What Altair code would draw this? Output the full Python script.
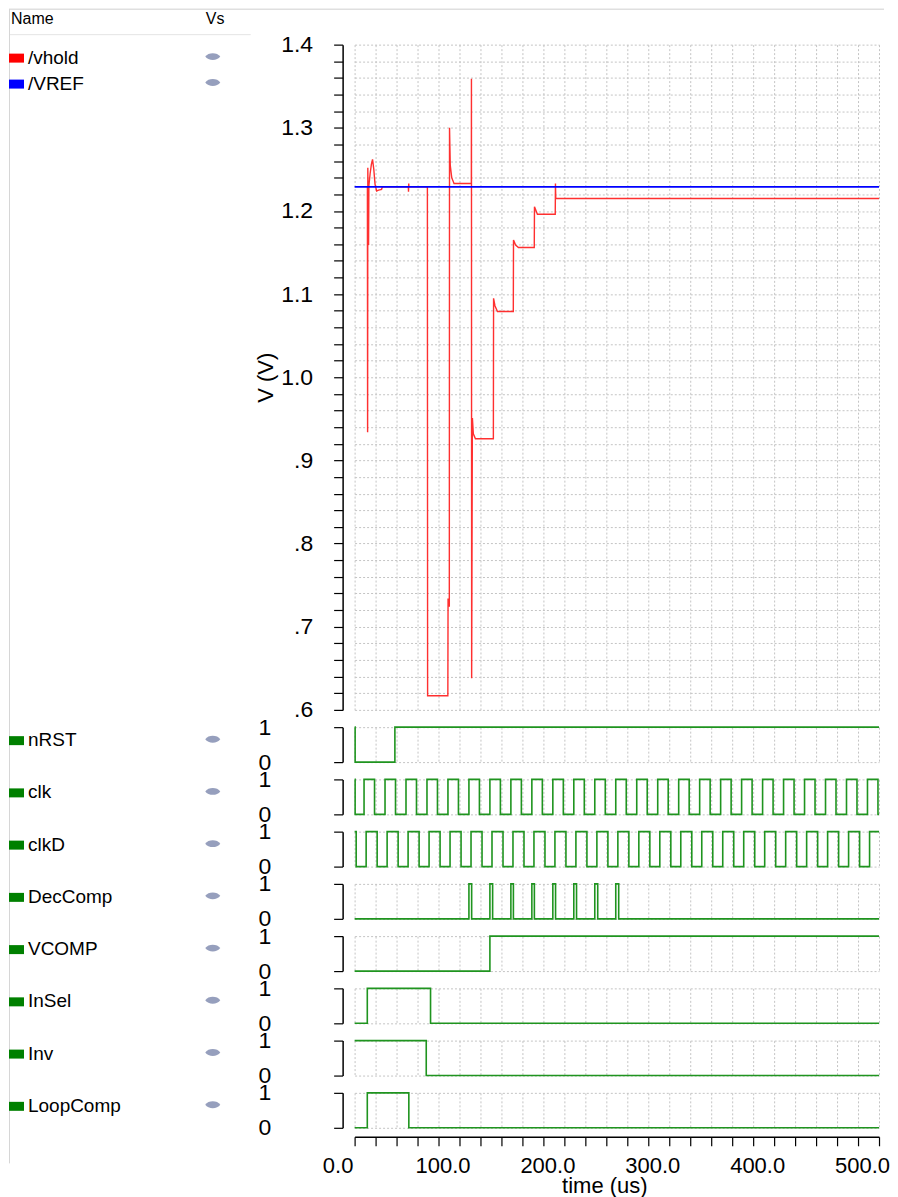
import altair as alt
import pandas as pd

FONT = "Liberation Sans"

# ---------------- data ----------------
vhold_t = [12.2, 12.4, 12.6, 13.3, 13.6, 14.8, 16.0, 17.1, 18.3, 19.5, 21.0, 22.9, 25.7, 26.5,
           51.2, 51.4, 51.6, 51.8, 69.4, 69.6, 88.9, 89.1, 90.3, 90.5, 91.2, 92.6, 94.8,
           111.3, 111.4, 111.6, 112.3, 113.2, 115.2, 132.3, 132.5, 133.8, 136.2,
           151.3, 151.5, 153.5, 156.2, 171.3, 171.5, 174.3, 191.3, 191.5, 191.8, 500.0]
vhold_v = [1.229, 0.934, 1.252, 1.159, 1.230, 1.245, 1.256, 1.262, 1.250, 1.232, 1.224, 1.225, 1.226, 1.229,
           1.229, 1.223, 1.233, 1.229, 1.229, 0.617, 0.617, 0.734, 0.724, 1.300, 1.255, 1.240, 1.233,
           1.233, 1.359, 0.638, 0.951, 0.932, 0.926, 0.926, 1.095, 1.086, 1.079,
           1.079, 1.165, 1.159, 1.156, 1.156, 1.205, 1.196, 1.196, 1.233, 1.215, 1.215]
vref_t = [0.0, 500.0]
vref_v = [1.229, 1.229]

nrst_t = [0, 0.5, 38.4, 500]
nrst_v = [1, 0, 1, 1]

clk_init = 1
clk_rise = [9, 29, 49, 69, 89, 109, 129, 149, 169, 189, 209, 229, 249, 269, 289, 309, 329, 349,
            369, 389, 409, 429, 449, 469, 489]
clk_fall = [0.5, 19, 39, 59, 79, 99, 119, 139, 159, 179, 199, 219, 239, 259, 279, 299, 319, 339,
            359, 379, 399, 419, 439, 459, 479, 499]

clkd_init = 1
clkd_rise = [11, 31, 51, 71, 91, 111, 131, 151, 171, 191, 211, 231, 251, 271, 291, 311, 331, 351,
             371, 391, 411, 431, 451, 471, 491]
clkd_fall = [1.5, 21.5, 41.5, 61.5, 81.5, 101.5, 121.5, 141.5, 161.5, 181.5, 201.5, 221.5, 241.5,
             261.5, 281.5, 301.5, 321.5, 341.5, 361.5, 381.5, 401.5, 421.5, 441.5, 461.5, 481.5]

dec_init = 0
dec_rise = [109, 129, 149, 169, 189, 209, 229, 249]
dec_fall = [111.6, 131.6, 151.4, 171.4, 191.6, 211.6, 231.8, 251.8]

vcomp_t = [0, 129, 500]
vcomp_v = [0, 1, 1]
insel_t = [0, 12.1, 72.4, 500]
insel_v = [0, 1, 0, 0]
inv_t = [0, 68.3, 500]
inv_v = [1, 0, 0]
loop_t = [0, 12.1, 51.7, 500]
loop_v = [0, 1, 0, 0]

signal_names = ["nRST", "clk", "clkD", "DecComp", "VCOMP", "InSel", "Inv", "LoopComp"]
trace_names = ["/vhold", "/VREF"]


def from_edges(init, rises, falls, t_end=500):
    ev = sorted([(t, 1) for t in rises] + [(t, 0) for t in falls])
    ts, vs = [0], [init]
    for t, v in ev:
        ts.append(t)
        vs.append(v)
    ts.append(t_end)
    vs.append(vs[-1])
    return ts, vs


clk_t, clk_v = from_edges(clk_init, clk_rise, clk_fall)
clkd_t, clkd_v = from_edges(clkd_init, clkd_rise, clkd_fall)
dec_t, dec_v = from_edges(dec_init, dec_rise, dec_fall)

signals = [
    (nrst_t, nrst_v), (clk_t, clk_v), (clkd_t, clkd_v), (dec_t, dec_v),
    (vcomp_t, vcomp_v), (insel_t, insel_v), (inv_t, inv_v), (loop_t, loop_v),
]

# ---------------- styles ----------------
W = 525
MAIN_H = 666
ROW_H = 35
GAP = 17.3
RED = "#ff1a1a"
BLUE = "#0000ff"
GREEN = "#1f941f"
EYE = "M-1,0 C-0.6,-0.62 0.6,-0.62 1,0 C0.6,0.62 -0.6,0.62 -1,0 Z"

grid_kw = dict(gridColor="#c4c4c4", gridDash=[2, 2], gridWidth=1)
xscale = alt.Scale(domain=[0, 500], nice=False, zero=False)
xticks = list(range(0, 501, 20))

x_grid_axis = alt.Axis(values=xticks, labels=False, ticks=False, domain=False,
                       title=None, grid=True, **grid_kw)

yticks_main = [round(0.6 + 0.02 * i, 2) for i in range(41)]
main_label_expr = ("abs(datum.value*10 - round(datum.value*10)) < 0.001 ? "
                   "(datum.value >= 0.999 ? format(datum.value, '.1f') : "
                   "replace(format(datum.value, '.1f'), '0.', '.')) : ''")

main_yaxis = alt.Axis(values=yticks_main, labelExpr=main_label_expr, tickSize=9,
                      tickColor="black", tickWidth=1.2, domainColor="black", domainWidth=1.5,
                      offset=12, labelPadding=21, labelFontSize=23, labelColor="black",
                      labelFont=FONT, labelOverlap=False, labelFlush=False,
                      title="V (V)", titleFont=FONT, titleFontSize=22, titleFontWeight="normal",
                      titleColor="black", titleX=-77, titleY=333, titleBaseline="middle",
                      titleAlign="center", grid=True, **grid_kw)

dig_yaxis = alt.Axis(values=[0, 1], format="d", tickSize=9, tickColor="black", tickWidth=1.2,
                     domainColor="black", domainWidth=1.5, offset=12, labelPadding=63,
                     labelFontSize=23, labelColor="black", labelFont=FONT, labelFlush=False,
                     labelOverlap=False, title=None, grid=True, **grid_kw)

x_last_axis = alt.Axis(values=xticks,
                       labelExpr="datum.value % 100 == 0 ? format(datum.value, '.1f') : ''",
                       tickSize=9, tickColor="black", tickWidth=1.2, domainColor="black",
                       domainWidth=1.5, offset=9, labelFontSize=22, labelPadding=10, labelOffset=-17,
                       labelFlush=False, labelOverlap=False, labelColor="black", labelFont=FONT,
                       title="time (us)", titleFont=FONT, titleFontSize=22,
                       titleFontWeight="normal", titleColor="black", titleX=250, titleY=39,
                       titleBaseline="top", grid=True, **grid_kw)

one = pd.DataFrame({"k": [0]})


def legend_item(name, color, yc):
    sq = alt.Chart(one).mark_rect(color=color).encode(
        x=alt.value(-346), x2=alt.value(-331), y=alt.value(yc - 4), y2=alt.value(yc + 5))
    txt = alt.Chart(pd.DataFrame({"label": [name]})).mark_text(
        font=FONT, fontSize=19, align="left", baseline="middle", color="black").encode(
        text="label:N", x=alt.value(-327), y=alt.value(yc))
    eye = alt.Chart(one).mark_point(shape=EYE, filled=True, size=225, color="#8b95b6",
                                    opacity=0.9).encode(x=alt.value(-142), y=alt.value(yc - 1))
    return [sq, txt, eye]


# ---------------- main analog panel ----------------
vhold_df = pd.DataFrame({"t": vhold_t, "v": vhold_v, "i": list(range(len(vhold_t)))})
vref_df = pd.DataFrame({"t": vref_t, "v": vref_v, "i": list(range(len(vref_t)))})
yscale_main = alt.Scale(domain=[0.6, 1.4], nice=False, zero=False)

red = alt.Chart(vhold_df).mark_line(color=RED, strokeWidth=1.4, opacity=0.9).encode(
    x=alt.X("t:Q", scale=xscale, axis=x_grid_axis),
    y=alt.Y("v:Q", scale=yscale_main, axis=main_yaxis),
    order="i:Q")
blue = alt.Chart(vref_df).mark_line(color=BLUE, strokeWidth=1.8).encode(
    x=alt.X("t:Q", scale=xscale, axis=x_grid_axis),
    y=alt.Y("v:Q", scale=yscale_main, axis=main_yaxis),
    order="i:Q")

header = alt.Chart(pd.DataFrame({"label": ["Name"]})).mark_text(
    font=FONT, fontSize=16, align="left", baseline="middle", color="black").encode(
    text="label:N", x=alt.value(-344), y=alt.value(-26))
header_vs = alt.Chart(pd.DataFrame({"label": ["Vs"]})).mark_text(
    font=FONT, fontSize=16, align="left", baseline="middle", color="black").encode(
    text="label:N", x=alt.value(-149), y=alt.value(-26))
sep = alt.Chart(one).mark_rule(color="#e4e4e4", strokeWidth=1).encode(
    x=alt.value(-346), x2=alt.value(-104), y=alt.value(-10))
frame_top = alt.Chart(one).mark_rule(color="#cfcfcf", strokeWidth=1).encode(
    x=alt.value(-346), x2=alt.value(530), y=alt.value(-35.5))
frame_left = alt.Chart(one).mark_rule(color="#d6d6d6", strokeWidth=1).encode(
    x=alt.value(-345.5), y=alt.value(-35.5), y2=alt.value(1120))

main_layers = [red, blue, header, header_vs, sep, frame_top, frame_left]
main_layers += legend_item(trace_names[0], "#ff0000", 13)
main_layers += legend_item(trace_names[1], BLUE, 39)
main = alt.layer(*main_layers).properties(width=W, height=MAIN_H)

# ---------------- digital panels ----------------
rows = [main]
for k, (name, (ts, vs)) in enumerate(zip(signal_names, signals)):
    last = k == len(signal_names) - 1
    df = pd.DataFrame({"t": ts, "v": vs, "i": list(range(len(ts)))})
    line = alt.Chart(df).mark_line(interpolate="step-after", color=GREEN, strokeWidth=1.6).encode(
        x=alt.X("t:Q", scale=xscale, axis=x_last_axis if last else x_grid_axis),
        y=alt.Y("v:Q", scale=alt.Scale(domain=[0, 1], nice=False, zero=False), axis=dig_yaxis),
        order="i:Q")
    layers = [line] + legend_item(name, "#008000", 13)
    rows.append(alt.layer(*layers).properties(width=W, height=ROW_H))

chart = alt.vconcat(*rows, spacing=GAP, bounds="flush").properties(padding=0)
chart = chart.configure_view(strokeWidth=0).configure_axis(labelFont=FONT, titleFont=FONT)

chart.save("out.html", embed_options={"renderer": "svg", "actions": False})
